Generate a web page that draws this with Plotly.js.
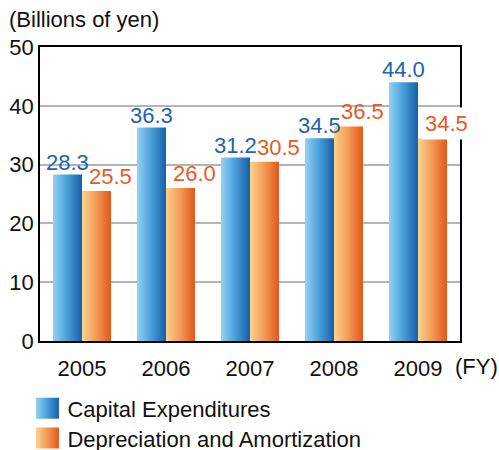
<!DOCTYPE html>
<html><head><meta charset="utf-8">
<script src="https://cdn.plot.ly/plotly-3.0.1.min.js"></script>
<style>body{margin:0;background:#fff}#chart{width:499px;height:450px}</style>
</head><body><div id="chart"></div>
<script>
const years = ['2005','2006','2007','2008','2009'];
const capex = [28.3, 36.3, 31.2, 34.5, 44.0];
const depr = [25.5, 26.0, 30.5, 36.5, 34.5];
const seriesNames = ['Capital Expenditures', 'Depreciation and Amortization'];
const yTicks = [0, 10, 20, 30, 40, 50];

const FONT = '"Liberation Sans", Arial, Helvetica, sans-serif';
const blueText = '#1b64ae', orangeText = '#e85a28';

const traces = [
  {type:'bar', x:years, y:capex, name:seriesNames[0], marker:{color:'#3f8fcf'}, hoverinfo:'skip'},
  {type:'bar', x:years, y:depr, name:seriesNames[1], marker:{color:'#f0904a'}, hoverinfo:'skip'}
];

const annotations = [];
years.forEach((yr, i) => {
  annotations.push({x:i, y:capex[i], xref:'x', yref:'y', text:capex[i].toFixed(1), showarrow:false,
    yanchor:'bottom', xshift:-15, yshift:-2, font:{size:22, color:blueText, family:FONT}});
  annotations.push({x:i, y:depr[i], xref:'x', yref:'y', text:depr[i].toFixed(1), showarrow:false,
    yanchor:'bottom', xshift:28, yshift:-2, borderpad:3,
    bgcolor: i === years.length - 1 ? '#ffffff' : 'rgba(0,0,0,0)',
    font:{size:22, color:orangeText, family:FONT}});
});
annotations.push({text:'(Billions of yen)', xref:'paper', yref:'paper', x:-0.079, y:1.092,
  xanchor:'left', yanchor:'middle', showarrow:false, font:{size:22, color:'#111', family:FONT}});
annotations.push({text:'(FY)', xref:'paper', yref:'paper', x:0.983, y:-0.088,
  xanchor:'left', yanchor:'middle', showarrow:false, font:{size:22, color:'#111', family:FONT}});

const layout = {
  width:499, height:450,
  margin:{l:40, r:39, t:47, b:109, autoexpand:false},
  paper_bgcolor:'#fff', plot_bgcolor:'#fff',
  font:{family:FONT, size:22, color:'#111'},
  barmode:'group', bargap:0.31, bargroupgap:0,
  showlegend:true,
  legend:{x:0.055, xref:'container', y:0.139, yref:'container', xanchor:'left', yanchor:'top',
    font:{size:22, family:FONT, color:'#111'}, bgcolor:'rgba(0,0,0,0)', borderwidth:0},
  xaxis:{type:'category', range:[-0.5, years.length - 0.5], autorange:false, showline:true, mirror:true,
    linecolor:'#000', linewidth:1.5, ticks:'outside', ticklen:7, tickcolor:'rgba(0,0,0,0)',
    showgrid:false, tickangle:0},
  yaxis:{range:[0,50], autorange:false, tickvals:yTicks, showline:true, mirror:true,
    linecolor:'#000', linewidth:1.5, showgrid:true, gridcolor:'#b4b4b4', gridwidth:1.5, zeroline:false},
  annotations:annotations
};

Plotly.newPlot('chart', traces, layout, {displayModeBar:false}).then(gd => {
  const svgNS = 'http://www.w3.org/2000/svg';
  const svg = gd.querySelector('.main-svg');
  let defs = svg.querySelector('defs');
  if (!defs) { defs = document.createElementNS(svgNS, 'defs'); svg.insertBefore(defs, svg.firstChild); }
  const grads = [
    {id:'gBlue', stops:[['0%','#93d2f2'],['45%','#4fa3dc'],['100%','#1460aa']]},
    {id:'gOrange', stops:[['0%','#fbd28c'],['45%','#f3a05a'],['100%','#e4561a']]}
  ];
  grads.forEach(g => {
    const lg = document.createElementNS(svgNS, 'linearGradient');
    lg.setAttribute('id', g.id); lg.setAttribute('x1','0'); lg.setAttribute('x2','1');
    lg.setAttribute('y1','0'); lg.setAttribute('y2','0');
    g.stops.forEach(s => {
      const st = document.createElementNS(svgNS, 'stop');
      st.setAttribute('offset', s[0]); st.setAttribute('stop-color', s[1]);
      lg.appendChild(st);
    });
    defs.appendChild(lg);
  });
  const ids = ['gBlue','gOrange'];
  gd.querySelectorAll('.barlayer .trace').forEach((t, i) => {
    t.querySelectorAll('path').forEach(p => { p.style.fill = 'url(#' + ids[i] + ')'; });
  });
  const legItems = gd.querySelectorAll('.legend .traces');
  let y0 = null;
  legItems.forEach((t, i) => {
    t.querySelectorAll('.legendpoints path').forEach(p => {
      p.style.fill = 'url(#' + ids[i] + ')';
      p.setAttribute('transform', 'translate(20,0) scale(1.92,1.75)');
    });
    const m = /translate\(([-\d.]+),\s*([-\d.]+)\)/.exec(t.getAttribute('transform') || '');
    if (m) {
      if (y0 === null) y0 = parseFloat(m[2]);
      t.setAttribute('transform', 'translate(' + m[1] + ',' + (y0 + i * 29.7) + ')');
    }
  });
});
</script>
</body></html>
